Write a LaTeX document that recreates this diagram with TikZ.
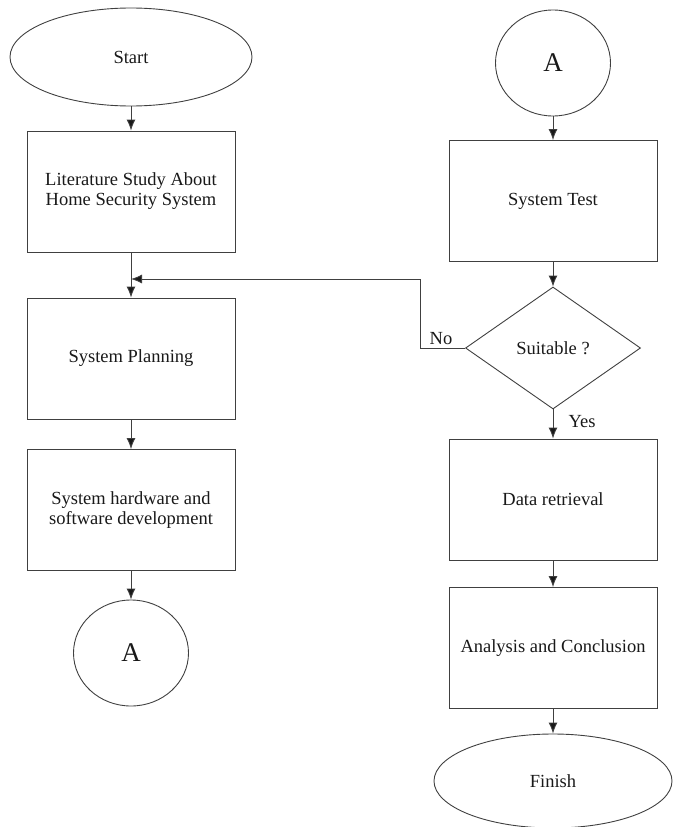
\documentclass[tikz,border=0pt]{standalone}
\usepackage{fontspec}
\setmainfont{Liberation Serif}
\usetikzlibrary{shapes.geometric,arrows.meta}
\begin{document}
\begin{tikzpicture}[x=1pt,y=-1pt,
  every node/.style={font=\fontsize{18.5}{20}\selectfont, text=black!90},
  line/.style={draw=black!75, line width=0.9pt},
  arr/.style={line, -{Latex[length=11pt,width=9pt,fill=black!90]}},
  procbox/.style={line, rectangle, minimum width=208pt, minimum height=121pt, inner sep=2pt, align=center, fill=white},
  term/.style={line, ellipse, minimum width=242pt, minimum height=98pt, inner sep=0pt},
  conn/.style={line, ellipse, minimum width=115pt, minimum height=106pt, inner sep=0pt, font=\fontsize{27}{30}\selectfont},
  decision/.style={line, diamond, minimum width=175pt, minimum height=122pt, inner sep=0pt},
  lbl/.style={inner sep=0pt}]
\useasboundingbox (0,0) rectangle (672,827);
% left column
\node[term] (start) at (131,57) {Start};
\node[procbox] (b1) at (131,191.5) {Literature Study About\\Home Security System};
\node[procbox] (b2) at (131,358.5) {System Planning};
\node[procbox] (b3) at (131,510) {System hardware and\\software development};
\node[conn] (a1) at (131,653) {A};
% right column
\node[conn] (a2) at (553,63) {A};
\node[procbox] (t1) at (553,201) {System Test};
\node[decision] (dia) at (553,348) {Suitable ?};
\node[procbox] (d1) at (553,499.5) {Data retrieval};
\node[procbox] (d2) at (553,648) {Analysis and Conclusion};
\node[term, minimum width=238pt, minimum height=94pt] (fin) at (553,781) {Finish};
% joints
\coordinate (j) at (131,279);
\coordinate (turn) at (420,279);
% connectors
\draw[arr] (start.south) -- (b1.north);
\draw[arr] (b1.south) -- (b2.north);
\draw[arr] (b2.south) -- (b3.north);
\draw[arr] (b3.south) -- (a1.north);
\draw[arr] (a2.south) -- (t1.north);
\draw[arr] (t1.south) -- (dia.north);
\draw[arr] (dia.south) -- (d1.north);
\draw[arr] (d1.south) -- (d2.north);
\draw[arr] (d2.south) -- (fin.north);
\draw[arr] (dia.west) -| (turn) -- (j);
% labels
\node[lbl] (no) at (441,339) {No};
\node[lbl] (yes) at (582,422) {Yes};
\end{tikzpicture}
\end{document}
